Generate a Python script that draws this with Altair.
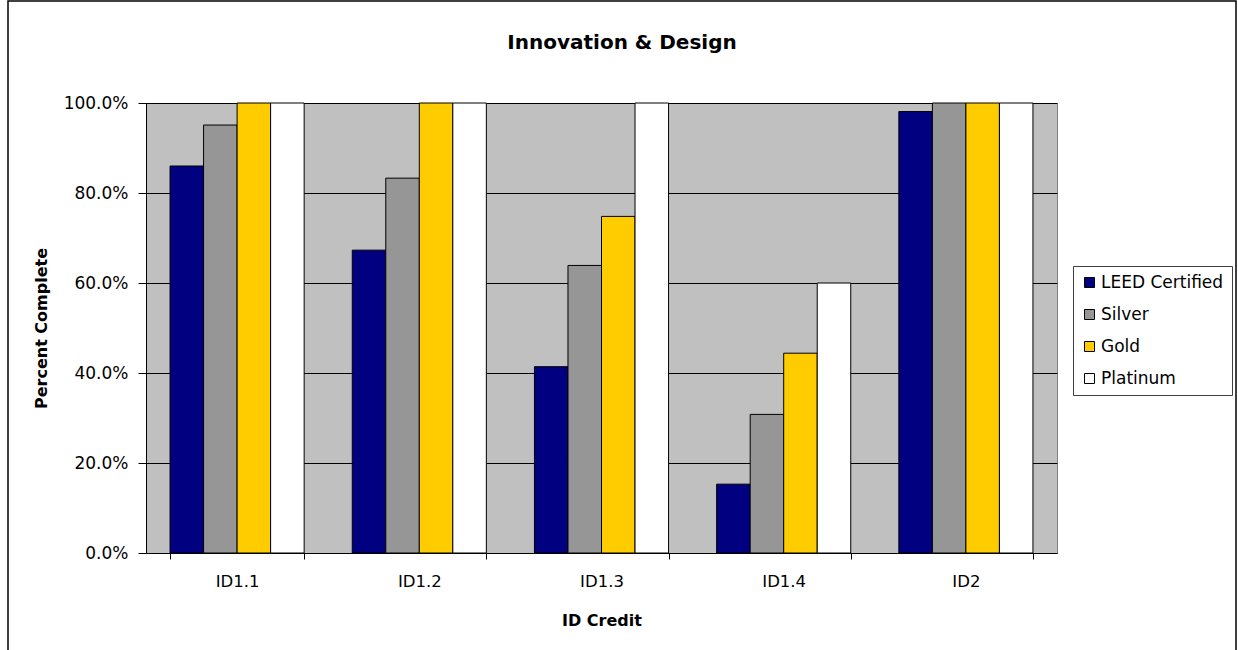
import altair as alt
import pandas as pd

credits = ["ID1.1", "ID1.2", "ID1.3", "ID1.4", "ID2"]
levels = ["LEED Certified", "Silver", "Gold", "Platinum"]
colors = ["#000080", "#969696", "#FFCC00", "#FFFFFF"]

leed_certified = [0.860, 0.673, 0.414, 0.153, 0.981]
silver = [0.951, 0.833, 0.639, 0.308, 1.0]
gold = [1.0, 1.0, 0.748, 0.444, 1.0]
platinum = [1.0, 1.0, 1.0, 0.60, 1.0]

rows = []
for lvl, vals in zip(levels, [leed_certified, silver, gold, platinum]):
    for c, v in zip(credits, vals):
        rows.append({"credit": c, "level": lvl, "value": v})
df = pd.DataFrame(rows)

FONT = "DejaVu Sans"

bars = alt.Chart(df).mark_bar(stroke="black", strokeWidth=1).encode(
    x=alt.X("credit:N", sort=credits,
            scale=alt.Scale(paddingInner=0.264, paddingOuter=0.132),
            axis=alt.Axis(title="ID Credit", labelAngle=0, tickBand="extent",
                          tickSize=6, labelPadding=14, titlePadding=23,
                          grid=False, domainColor="black", tickColor="black",
                          labelFontSize=16.5, titleFontSize=16, titleFontWeight="bold")),
    xOffset=alt.XOffset("level:N", sort=levels),
    y=alt.Y("value:Q", scale=alt.Scale(domain=[0, 1], nice=False),
            axis=alt.Axis(title="Percent Complete", format=".1%", values=[0, 0.2, 0.4, 0.6, 0.8, 1.0],
                          tickSize=8, labelPadding=10, titlePadding=14,
                          grid=True, gridColor="black", gridOpacity=1, gridWidth=1,
                          domainColor="black", tickColor="black",
                          labelFontSize=17, titleFontSize=16, titleFontWeight="bold")),
    color=alt.Color("level:N", sort=levels,
                    scale=alt.Scale(domain=levels, range=colors),
                    legend=alt.Legend(title=None, orient="none", legendX=927, legendY=163,
                                      symbolType="square", symbolSize=100,
                                      symbolStrokeColor="black", symbolStrokeWidth=1,
                                      labelFontSize=17, rowPadding=14, labelOffset=3,
                                      strokeColor="#404040", padding=8,
                                      fillColor="white", labelLimit=300)),
)

frame = alt.Chart(pd.DataFrame({"k": [0]})).mark_rect(
    fill=None, stroke="black", strokeWidth=1.5, clip=False
).encode(
    x=alt.value(-138), x2=alt.value(1090), y=alt.value(-102), y2=alt.value(560)
)

chart = alt.layer(bars, frame).properties(
    width=911,
    height=450,
    title=alt.TitleParams("Innovation & Design", fontSize=20, fontWeight="bold", offset=-53,
                          anchor="middle", frame="bounds",
                          font=FONT, color="black"),
    background="white",
    autosize=alt.AutoSizeParams(type="none"),
    padding={"left": 146, "top": 103, "right": 181, "bottom": 97},
).configure_view(
    fill="#C0C0C0", stroke="#808080", strokeWidth=1
).configure_axis(
    labelFont=FONT, titleFont=FONT, labelColor="black", titleColor="black"
).configure_legend(
    labelFont=FONT, labelColor="black"
)

chart.save("out.html", embed_options={"renderer": "svg", "actions": False})
